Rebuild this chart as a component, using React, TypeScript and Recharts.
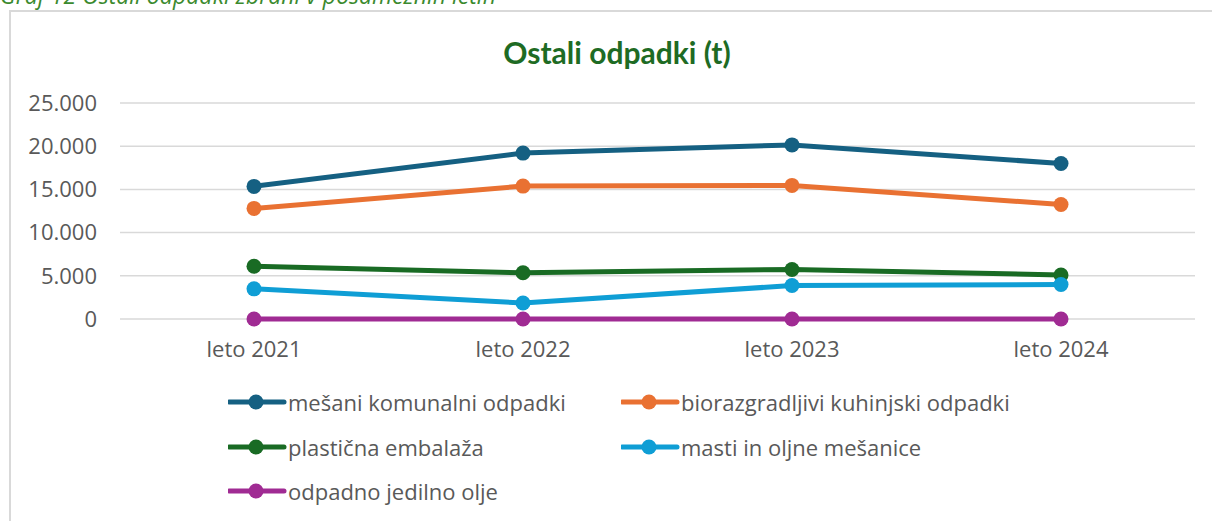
import React from "react";
import { LineChart, Line, XAxis, YAxis, CartesianGrid, Legend } from "recharts";

const categories = ["leto 2021", "leto 2022", "leto 2023", "leto 2024"];
const mesani = [15350, 19200, 20150, 18000];
const bio = [12800, 15380, 15460, 13250];
const plastika = [6100, 5350, 5730, 5100];
const masti = [3490, 1860, 3870, 3990];
const olje = [0, 0, 0, 0];
const yTicks = [0, 5000, 10000, 15000, 20000, 25000];

const seriesDefs = [
  { key: "mesani", name: "mešani komunalni odpadki", color: "#156082", values: mesani },
  { key: "bio", name: "biorazgradljivi kuhinjski odpadki", color: "#E97132", values: bio },
  { key: "plastika", name: "plastična embalaža", color: "#196B24", values: plastika },
  { key: "masti", name: "masti in oljne mešanice", color: "#0F9ED5", values: masti },
  { key: "olje", name: "odpadno jedilno olje", color: "#A02B93", values: olje },
];

const data = categories.map((c, i) => {
  const row: Record<string, any> = { name: c };
  seriesDefs.forEach((s) => (row[s.key] = s.values[i]));
  return row;
});

const FONT = "'Open Sans', sans-serif";
const fmt = (v: number) => (v === 0 ? "0" : v.toLocaleString("de-DE"));
const order = seriesDefs.map((s) => s.name);

const LegendContent = (props: any) => {
  const payload = [...(props.payload || [])].sort(
    (a: any, b: any) => order.indexOf(a.value) - order.indexOf(b.value)
  );
  return (
    <div
      style={{
        display: "grid",
        gridTemplateColumns: "393px 393px",
        gridAutoRows: "44.5px",
        fontFamily: FONT,
        fontSize: 22,
        color: "#595959",
      }}
    >
      {payload.map((p: any) => (
        <div key={p.value} style={{ display: "flex", alignItems: "center" }}>
          <svg width={60} height={20} style={{ flex: "none" }}>
            <line x1={1} x2={56} y1={10} y2={10} stroke={p.color} strokeWidth={5} strokeLinecap="round" />
            <circle cx={28} cy={10} r={7.5} fill={p.color} />
          </svg>
          <span style={{ whiteSpace: "nowrap" }}>{p.value}</span>
        </div>
      ))}
    </div>
  );
};

export default function App() {
  return (
    <div style={{ position: "absolute", left: 0, top: 0, width: 1212, height: 521, overflow: "hidden", background: "#fff" }}>
      <svg width={1212} height={20} style={{ position: "absolute", left: 0, top: 0 }}>
        <text x={0} y={4} fontFamily={FONT} fontStyle="italic" fontSize={23} fill="#3B8A2E">
          Graf 12 Ostali odpadki zbrani v posameznih letih
        </text>
      </svg>
      <div
        style={{
          position: "absolute",
          left: 9,
          top: 10,
          width: 1230,
          height: 540,
          border: "2px solid #D9D9D9",
          boxSizing: "border-box",
        }}
      />
      <div
        style={{
          position: "absolute",
          left: 0,
          top: 0,
          width: 1234,
          textAlign: "center",
          fontFamily: "Lato, sans-serif",
          fontWeight: 700,
          fontSize: 30,
          lineHeight: "36px",
          paddingTop: 34,
          color: "#1E6B24",
        }}
      >
        Ostali odpadki (t)
      </div>
      <div style={{ position: "absolute", left: 0, top: 0 }}>
        <LineChart
          width={1212}
          height={521}
          data={data}
          margin={{ top: 103, right: 17, bottom: 162, left: 0 }}
        >
          <CartesianGrid vertical={false} stroke="#D9D9D9" strokeWidth={1.5} />
          <XAxis
            dataKey="name"
            axisLine={false}
            tickLine={false}
            height={40}
            tickMargin={16}
            padding={{ left: 134, right: 134 }}
            tick={{ fontFamily: FONT, fontSize: 22, fill: "#595959" }}
          />
          <YAxis
            domain={[0, 25000]}
            ticks={yTicks}
            width={120}
            axisLine={false}
            tickLine={false}
            tickMargin={17}
            tickFormatter={fmt}
            tick={{ fontFamily: FONT, fontSize: 22, fill: "#595959" }}
          />
          {seriesDefs.map((s) => (
            <Line
              key={s.key}
              dataKey={s.key}
              name={s.name}
              stroke={s.color}
              strokeWidth={5}
              dot={{ r: 7.5, fill: s.color, stroke: "none" }}
              activeDot={false}
              isAnimationActive={false}
            />
          ))}
          <Legend
            layout="vertical"
            align="center"
            verticalAlign="middle"
            wrapperStyle={{ left: 228, top: 380, width: 800 }}
            content={LegendContent}
          />
        </LineChart>
      </div>
    </div>
  );
}
